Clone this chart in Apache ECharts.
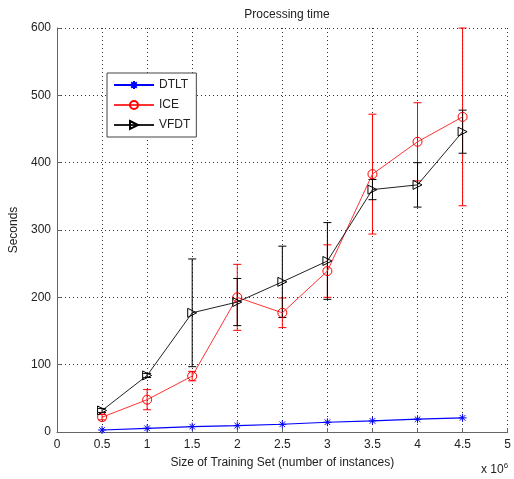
<!DOCTYPE html>
<html>
<head>
<meta charset="utf-8">
<script src="https://cdn.jsdelivr.net/npm/echarts@6/dist/echarts.min.js"></script>
<style>
  html, body { margin: 0; padding: 0; background: #fff; }
  #main { width: 514px; height: 479px; }
</style>
</head>
<body>
<div id="main"></div>
<script>
// training set size (x 10^6)
var sizes = [0.5, 1, 1.5, 2, 2.5, 3, 3.5, 4, 4.5];

// seconds
var dtlt = [3, 5.5, 8, 9.5, 11.5, 14.5, 16.5, 19, 21];
var ice = [22, 48, 83, 200, 177, 239, 383, 431, 468];
var iceErr = [4, 15, 7, 49, 22, 39, 89, 58, 132];
var vfdt = [32, 84, 177, 193, 223, 254, 360, 367, 446];
var vfdtErr = [3, 3, 80, 35, 53, 57, 15, 33, 32];

var FONT = 'Liberation Sans';

function pairs(ys) {
    return sizes.map(function (x, i) { return [x, ys[i]]; });
}
function errData(ys, errs) {
    return sizes.map(function (x, i) { return [x, ys[i] - errs[i], ys[i] + errs[i]]; });
}

// vertical bar with caps, drawn through the chart's own scales
function errorBars(color) {
    return function (params, api) {
        var lo = api.coord([api.value(0), api.value(1)]);
        var hi = api.coord([api.value(0), api.value(2)]);
        var w = 4;
        var st = { stroke: color, lineWidth: 1 };
        return {
            type: 'group',
            children: [
                { type: 'line', shape: { x1: lo[0], y1: lo[1], x2: hi[0], y2: hi[1] }, style: st },
                { type: 'line', shape: { x1: lo[0] - w, y1: lo[1], x2: lo[0] + w, y2: lo[1] }, style: st },
                { type: 'line', shape: { x1: hi[0] - w, y1: hi[1], x2: hi[0] + w, y2: hi[1] }, style: st }
            ]
        };
    };
}

var chart = echarts.init(document.getElementById('main'));

var dotted = { show: true, lineStyle: { color: '#333', type: [1, 3], width: 1 } };

chart.setOption({
    animation: false,
    backgroundColor: '#fff',
    title: {
        text: 'Processing time',
        left: 282, top: 4, textAlign: 'center',
        textStyle: { fontFamily: FONT, fontSize: 12, fontWeight: 'normal', color: '#222' }
    },
    grid: { left: 53, right: 3, top: 28, bottom: 47 },
    legend: {
        left: 107, top: 73,
        orient: 'vertical',
        backgroundColor: '#fff',
        borderColor: '#444', borderWidth: 1, borderRadius: 0,
        padding: [6, 6, 6, 6],
        itemGap: 8,
        itemWidth: 40, itemHeight: 10,
        textStyle: { fontFamily: FONT, fontSize: 12, color: '#222' },
        data: ['DTLT', 'ICE', 'VFDT']
    },
    xAxis: {
        type: 'value', min: 0, max: 5, interval: 0.5,
        name: 'Size of Training Set (number of instances)',
        nameLocation: 'middle', nameGap: 25,
        nameTextStyle: { fontFamily: FONT, fontSize: 12, color: '#222' },
        axisLine: { lineStyle: { color: '#666' } },
        axisTick: { inside: true, length: 4, lineStyle: { color: '#666' } },
        axisLabel: { fontFamily: FONT, fontSize: 12, color: '#222', margin: 7,
            showMinLabel: true, showMaxLabel: true },
        splitLine: dotted
    },
    yAxis: {
        type: 'value', min: 0, max: 600, interval: 100,
        name: 'Seconds',
        nameLocation: 'middle', nameGap: 37,
        nameTextStyle: { fontFamily: FONT, fontSize: 12, color: '#222' },
        axisLine: { show: true, lineStyle: { color: '#666' } },
        axisTick: { show: true, inside: true, length: 4, lineStyle: { color: '#666' } },
        axisLabel: { fontFamily: FONT, fontSize: 12, color: '#222', margin: 6 },
        splitLine: dotted
    },
    graphic: [{
        type: 'text', left: 481, top: 462,
        style: {
            text: 'x 10{s|6}',
            rich: { s: { fontSize: 8, verticalAlign: 'top', padding: [0, 0, 8, 0], fontFamily: FONT, fill: '#222' } },
            font: '12px ' + FONT, fill: '#222'
        }
    }],
    series: [
        {
            name: 'ICE err', type: 'custom', renderItem: errorBars('#f00'),
            data: errData(ice, iceErr), encode: { x: 0, y: [1, 2] }, z: 2, silent: true
        },
        {
            name: 'VFDT err', type: 'custom', renderItem: errorBars('#000'),
            data: errData(vfdt, vfdtErr), encode: { x: 0, y: [1, 2] }, z: 3, silent: true
        },
        {
            name: 'DTLT', type: 'line', data: pairs(dtlt),
            symbol: 'path://M5,0L5,10M0,5L10,5M1.5,1.5L8.5,8.5M8.5,1.5L1.5,8.5',
            symbolSize: 8, showAllSymbol: true,
            lineStyle: { color: '#00f', width: 1.2 },
            itemStyle: { color: 'rgba(0,0,0,0)', borderColor: '#00f', borderWidth: 1 },
            z: 4
        },
        {
            name: 'ICE', type: 'line', data: pairs(ice),
            symbol: 'circle', symbolSize: 9, showAllSymbol: true,
            lineStyle: { color: '#f33', width: 1 },
            itemStyle: { color: 'rgba(0,0,0,0)', borderColor: '#f00', borderWidth: 1 },
            z: 4
        },
        {
            name: 'VFDT', type: 'line', data: pairs(vfdt),
            symbol: 'path://M0,0L10,5L0,10Z', symbolSize: 9, showAllSymbol: true,
            lineStyle: { color: '#222', width: 1 },
            itemStyle: { color: 'rgba(0,0,0,0)', borderColor: '#000', borderWidth: 1 },
            z: 5
        }
    ]
});
</script>
</body>
</html>
